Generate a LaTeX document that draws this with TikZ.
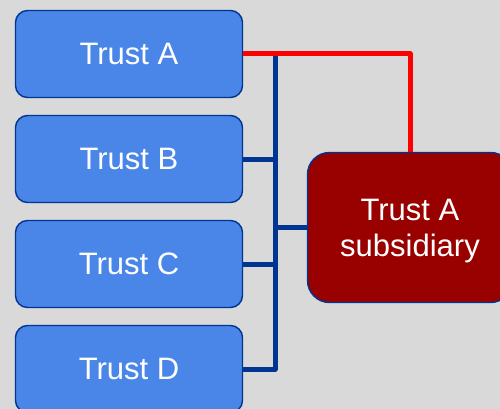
\documentclass[tikz,border=0pt]{standalone}
\usepackage{fontspec}
\setmainfont{Liberation Sans}
\usepackage{xcolor}
\usetikzlibrary{calc}
\definecolor{bggray}{HTML}{D9D9D9}
\definecolor{trustblue}{HTML}{4A86E8}
\definecolor{edgeblue}{HTML}{003591}
\definecolor{subred}{HTML}{990000}
\definecolor{linkred}{HTML}{FF0000}

\begin{document}
\begin{tikzpicture}[x=1pt,y=-1pt,
    trust/.style={draw=edgeblue,line width=1.4pt,fill=trustblue,rounded corners=12pt,
      minimum width=227pt,minimum height=87pt,text=white,font=\fontsize{31}{36}\selectfont},
    subbox/.style={trust,fill=subred,rounded corners=22pt,minimum width=205pt,
      minimum height=150pt,align=center,text depth=-5pt},
    bus/.style={draw=edgeblue,line width=5pt,line join=round},
    link/.style={draw=linkred,line width=5pt,line join=round}]
      \fill[bggray] (0,0) rectangle (500,409);
      \useasboundingbox (0,0) rectangle (500,409);

      \node[trust] (trA) at (129,54) {Trust A};
      \node[trust] (trB) at (129,159) {Trust B};
      \node[trust] (trC) at (129,264) {Trust C};
      \node[trust] (trD) at (129,369) {Trust D};
      \node[subbox] (sub) at (410,227.5) {Trust A\\subsidiary};

      \coordinate (busT) at (275,54);

      \draw[bus] (trD.east) -| (busT);
      \draw[bus] (trB.east) -- (trB.east -| busT);
      \draw[bus] (trC.east) -- (trC.east -| busT);
      \draw[bus] (sub.west) -- (sub.west -| busT);
      \draw[link] (trA.east) -| (sub.north);
    \end{tikzpicture}
\end{document}
